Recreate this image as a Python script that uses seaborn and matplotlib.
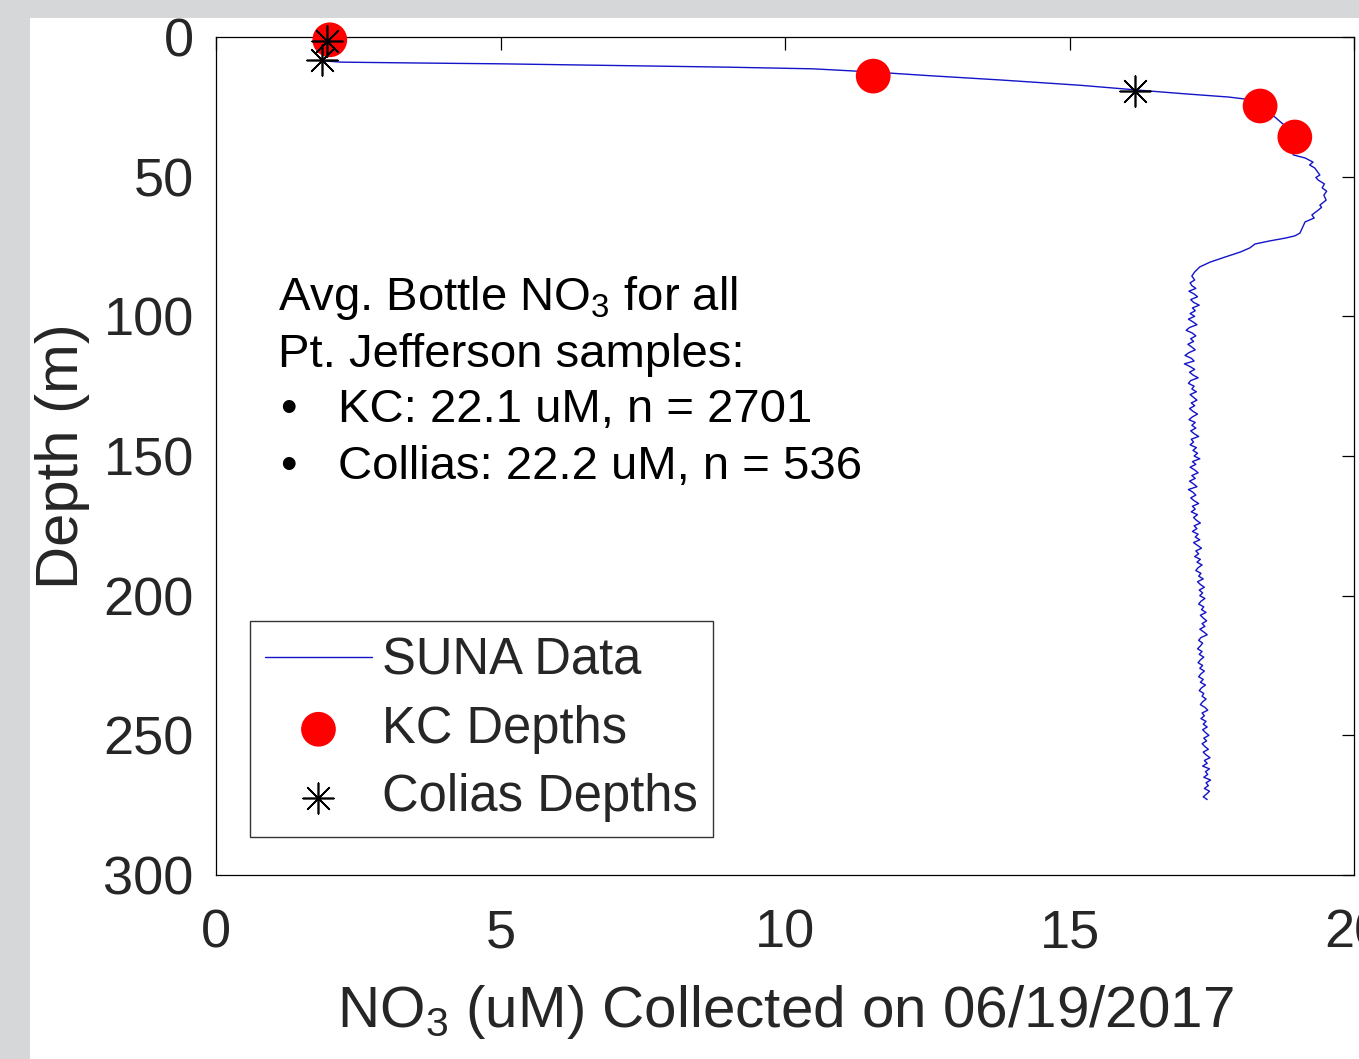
import matplotlib
matplotlib.use("Agg")
import matplotlib.pyplot as plt
from matplotlib.patches import Rectangle
import seaborn as sns

# --- datos ---
# parte superior del perfil SUNA (hasta ~88 m)
suna_no3_sup = [1.86, 2.2, 3.5, 5.0, 7.0, 9.0, 10.5, 11.6, 12.5, 13.8, 15.2, 16.2, 17.0, 17.8, 18.2,
                18.4, 18.6, 18.8, 18.95, 18.93, 19.14, 19.28, 19.22, 19.31, 19.40, 19.33, 19.37,
                19.48, 19.44, 19.52, 19.47, 19.51, 19.40, 19.43, 19.37, 19.26, 19.30, 19.14,
                19.09, 19.05, 18.96, 18.79, 18.52, 18.26, 18.17, 18.00, 17.73, 17.47, 17.29,
                17.20, 17.15, 17.20, 17.12]
suna_depth_sup = [8.5, 9.0, 9.3, 9.6, 10.2, 10.8, 11.4, 12.6, 13.8, 15.4, 17.3, 19.0, 20.3, 21.5, 22.5,
                  25.0, 28.5, 32.0, 36.0, 42.2, 43.3, 44.8, 45.8, 46.9, 49.4, 50.3, 51.2,
                  52.6, 54.0, 55.2, 56.6, 58.4, 60.2, 61.0, 62.0, 63.7, 64.8, 66.2,
                  68.4, 70.2, 71.2, 72.0, 73.0, 74.1, 75.5, 77.0, 78.8, 80.6, 82.3,
                  84.1, 85.6, 87.0, 88.0]

# parte profunda (89 - 273 m)
suna_no3_prof = [
    17.15, 17.22, 17.10, 17.19, 17.25, 17.13, 17.18, 17.28, 17.16, 17.21,
    17.12, 17.20, 17.09, 17.17, 17.24, 17.11, 17.05, 17.16, 17.22, 17.13,
    17.18, 17.08, 17.15, 17.21, 17.10, 17.03, 17.14, 17.19, 17.02, 17.12,
    17.20, 17.11, 17.17, 17.26, 17.13, 17.09, 17.19, 17.15, 17.23, 17.12,
    17.18, 17.24, 17.14, 17.20, 17.11, 17.17, 17.25, 17.16, 17.10, 17.21,
    17.15, 17.22, 17.13, 17.19, 17.27, 17.14, 17.18, 17.12, 17.23, 17.17,
    17.25, 17.19, 17.29, 17.16, 17.22, 17.12, 17.20, 17.26, 17.15, 17.21,
    17.11, 17.18, 17.24, 17.09, 17.17, 17.22, 17.13, 17.19, 17.27, 17.16,
    17.21, 17.14, 17.25, 17.18, 17.23, 17.30, 17.19, 17.24, 17.16, 17.26,
    17.21, 17.29, 17.18, 17.25, 17.32, 17.22, 17.27, 17.20, 17.30, 17.24,
    17.33, 17.26, 17.22, 17.31, 17.27, 17.35, 17.25, 17.30, 17.37, 17.28,
    17.34, 17.29, 17.38, 17.31, 17.27, 17.36, 17.32, 17.40, 17.30, 17.35,
    17.41, 17.33, 17.38, 17.29, 17.36, 17.42, 17.31, 17.27, 17.34, 17.30,
    17.25, 17.33, 17.28, 17.36, 17.30, 17.26, 17.34, 17.29, 17.37, 17.31,
    17.27, 17.35, 17.30, 17.39, 17.32, 17.28, 17.36, 17.33, 17.40, 17.34,
    17.30, 17.38, 17.43, 17.33, 17.37, 17.31, 17.40, 17.35, 17.42, 17.34,
    17.39, 17.45, 17.36, 17.41, 17.33, 17.38, 17.44, 17.35, 17.40, 17.47,
    17.37, 17.42, 17.34, 17.46, 17.39, 17.43, 17.36, 17.48, 17.40, 17.44,
    17.37, 17.46, 17.41, 17.35, 17.42]
suna_depth_prof = [
    89, 90, 91, 92, 93, 94, 95, 96, 97, 98,
    99, 100, 101, 102, 103, 104, 105, 106, 107, 108,
    109, 110, 111, 112, 113, 114, 115, 116, 117, 118,
    119, 120, 121, 122, 123, 124, 125, 126, 127, 128,
    129, 130, 131, 132, 133, 134, 135, 136, 137, 138,
    139, 140, 141, 142, 143, 144, 145, 146, 147, 148,
    149, 150, 151, 152, 153, 154, 155, 156, 157, 158,
    159, 160, 161, 162, 163, 164, 165, 166, 167, 168,
    169, 170, 171, 172, 173, 174, 175, 176, 177, 178,
    179, 180, 181, 182, 183, 184, 185, 186, 187, 188,
    189, 190, 191, 192, 193, 194, 195, 196, 197, 198,
    199, 200, 201, 202, 203, 204, 205, 206, 207, 208,
    209, 210, 211, 212, 213, 214, 215, 216, 217, 218,
    219, 220, 221, 222, 223, 224, 225, 226, 227, 228,
    229, 230, 231, 232, 233, 234, 235, 236, 237, 238,
    239, 240, 241, 242, 243, 244, 245, 246, 247, 248,
    249, 250, 251, 252, 253, 254, 255, 256, 257, 258,
    259, 260, 261, 262, 263, 264, 265, 266, 267, 268,
    269, 270, 271, 272, 273]

kc_no3 = [2.0, 11.55, 18.35, 18.96]
kc_depth = [1.0, 14.0, 24.7, 35.8]

colias_no3 = [1.95, 1.86, 16.15]
colias_depth = [1.5, 8.3, 19.3]

texto = ["Avg. Bottle NO$_3$ for all", "Pt. Jefferson samples:"]
viñetas = ["KC: 22.1 uM, n = 2701", "Collias: 22.2 uM, n = 536"]

suna_no3 = suna_no3_sup + suna_no3_prof
suna_depth = suna_depth_sup + suna_depth_prof

sns.set_theme(style="white")
plt.rcParams['font.family'] = ['Liberation Sans', 'DejaVu Sans']
plt.rcParams['mathtext.default'] = 'regular'

W, H = 1359, 1059
fig = plt.figure(figsize=(W / 100, H / 100), dpi=100)
fig.patch.set_facecolor('#d5d7d9')
fig.add_artist(Rectangle((30 / W, 0), 1, (H - 18) / H, transform=fig.transFigure,
                         facecolor='white', edgecolor='none', zorder=-5))

ax = fig.add_axes([216 / W, (H - 875) / H, (1354 - 216) / W, (875 - 37) / H])
ax.set_facecolor('white')

sns.lineplot(x=suna_no3, y=suna_depth, sort=False, estimator=None, color='#1414c8',
             linewidth=1.0, ax=ax, label='SUNA Data')
sns.scatterplot(x=kc_no3, y=kc_depth, color='#ff0000', s=25 ** 2, marker='o',
                edgecolor='none', ax=ax, label='KC Depths', clip_on=False, zorder=3)
sns.scatterplot(x=colias_no3, y=colias_depth, color='black', s=22 ** 2, marker=(8, 2, 0),
                linewidths=1.2, ax=ax, label='Colias Depths', clip_on=False, zorder=4)

ax.set_xlim(0, 20)
ax.set_ylim(300, 0)
ax.set_xticks([0, 5, 10, 15, 20])
ax.set_yticks([0, 50, 100, 150, 200, 250, 300])

gris = '#262626'
ax.tick_params(direction='in', length=9, width=0.9, top=True, right=True,
               labelsize=39, colors='black', labelcolor=gris)
ax.tick_params(axis='x', pad=24)
ax.tick_params(axis='y', pad=16)
for s in ax.spines.values():
    s.set_color('black')
    s.set_linewidth(0.9)

ax.set_xlabel('NO$_3$ (uM) Collected on 06/19/2017', fontsize=42, color=gris, labelpad=18)
ax.set_ylabel('Depth (m)', fontsize=43, color=gris, labelpad=10)

# anotacion
ax.text(1.09, 97.7, texto[0], fontsize=34, va='baseline', ha='left', color='black')
ax.text(1.09, 118.0, texto[1], fontsize=34, va='baseline', ha='left', color='black')
for yy, t in zip([138.0, 158.3], viñetas):
    ax.text(1.12, yy, '\u2022', fontsize=34, va='baseline', ha='left', color='black')
    ax.text(2.14, yy, t, fontsize=34, va='baseline', ha='left', color='black')

leg = ax.legend(loc='lower left', bbox_to_anchor=(0.0299, 0.0453), borderaxespad=0,
                fontsize=36.5, frameon=True, fancybox=False, shadow=False,
                handlelength=2.1, handletextpad=0.2, labelspacing=0.38, borderpad=0.3,
                markerscale=1.0)
leg.get_frame().set_edgecolor('#333333')
leg.get_frame().set_linewidth(1.0)
leg.get_frame().set_alpha(1)

fig.savefig('out.png', dpi=100, facecolor=fig.get_facecolor())
